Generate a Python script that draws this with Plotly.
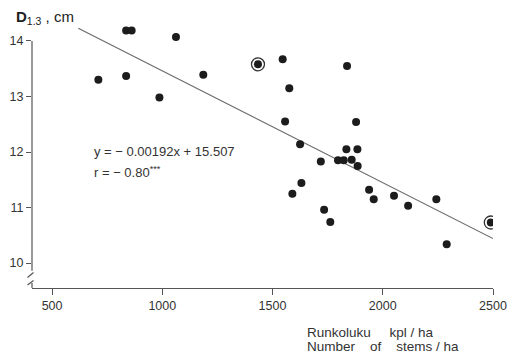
import plotly.graph_objects as go

# ---- data ----
stems = [710, 836, 861, 836, 1062, 987, 1186, 1434, 1546, 1838, 1576, 1557, 1879,
         1625, 1835, 1885, 1719, 1797, 1823, 1859, 1886, 1631, 1590, 1938, 1959,
         2051, 2115, 2243, 1734, 1762, 2490, 2290]
d13 = [13.30, 14.19, 14.19, 13.37, 14.07, 12.98, 13.39, 13.58, 13.67, 13.55, 13.15,
       12.55, 12.54, 12.14, 12.05, 12.05, 11.83, 11.85, 11.85, 11.86, 11.75, 11.44,
       11.25, 11.32, 11.15, 11.21, 11.03, 11.15, 10.96, 10.74, 10.73, 10.34]
circled_x = [1434, 2490]
circled_y = [13.58, 10.73]
line_x = [619, 2500]
line_y = [14.23, 10.44]
x_ticks = [500, 1000, 1500, 2000, 2500]
y_ticks = [10, 11, 12, 13, 14]

FONT = "Liberation Sans, Arial, sans-serif"
W, H = 514, 354
L, R, T, B = 32, 21, 20, 66
PW, PH = W - L - R, H - T - B


def px(x):
    return (x - L) / PW


def py(y):
    return (H - B - y) / PH


fig = go.Figure()
fig.add_trace(go.Scatter(x=line_x, y=line_y, mode="lines",
                         line=dict(color="#6a6a6a", width=1.1),
                         hoverinfo="skip", showlegend=False))
fig.add_trace(go.Scatter(x=circled_x, y=circled_y, mode="markers",
                         marker=dict(size=13, color="white",
                                     line=dict(color="#333", width=1.3)),
                         showlegend=False))
fig.add_trace(go.Scatter(x=stems, y=d13, mode="markers",
                         marker=dict(size=8, color="#1c1c1c"),
                         showlegend=False))

ax_col = "#555"
shapes = [
    dict(type="line", xref="paper", yref="y", x0=0, x1=0, y0=14, y1=9.86,
         line=dict(color=ax_col, width=1.2)),
    dict(type="line", xref="paper", yref="paper", x0=px(27.5), y0=py(277.5),
         x1=px(33.5), y1=py(272.5), line=dict(color=ax_col, width=1.2)),
    dict(type="line", xref="paper", yref="paper", x0=px(27.5), y0=py(285),
         x1=px(33.5), y1=py(280.5), line=dict(color=ax_col, width=1.2)),
    dict(type="line", xref="paper", yref="paper", x0=0, y0=py(283),
         x1=0, y1=0, line=dict(color=ax_col, width=1.2)),
]

annos = [
    dict(text="<b>D</b><sub>1.3</sub> , cm", x=px(14), y=py(17), xref="paper",
         yref="paper", xanchor="left", yanchor="middle", showarrow=False,
         font=dict(size=15, color="#222", family=FONT)),
    dict(text="y = − 0.00192x + 15.507", x=px(92), y=py(151), xref="paper",
         yref="paper", xanchor="left", yanchor="middle", showarrow=False,
         font=dict(size=13, color="#333", family=FONT)),
    dict(text="r = − 0.80<sup>***</sup>", x=px(92), y=py(171.5), xref="paper",
         yref="paper", xanchor="left", yanchor="middle", showarrow=False,
         font=dict(size=13, color="#333", family=FONT)),
    dict(text="Runkoluku\u00a0\u00a0\u00a0\u00a0 kpl / ha", x=px(305), y=py(332),
         xref="paper", yref="paper", xanchor="left", yanchor="middle",
         showarrow=False, font=dict(size=13.5, color="#333", family=FONT)),
    dict(text="Number\u00a0\u00a0\u00a0 of\u00a0\u00a0\u00a0 stems / ha", x=px(305),
         y=py(346), xref="paper", yref="paper", xanchor="left", yanchor="middle",
         showarrow=False, font=dict(size=13.5, color="#333", family=FONT)),
]

fig.update_layout(
    width=W, height=H,
    margin=dict(l=L, r=R, t=T, b=B, pad=0, autoexpand=False),
    paper_bgcolor="white", plot_bgcolor="white",
    font=dict(family=FONT, color="#333"),
    shapes=shapes, annotations=annos,
    xaxis=dict(range=[409, 2500], tickvals=x_ticks, ticks="outside", ticklen=6,
               tickcolor=ax_col, tickwidth=1.2, showline=True, linecolor=ax_col,
               linewidth=1.2, showgrid=False, zeroline=False, automargin=False,
               tickfont=dict(size=12.5, color="#333", family=FONT)),
    yaxis=dict(range=[9.55, 14.378], tickvals=y_ticks, ticks="outside", ticklen=5,
               tickcolor=ax_col, tickwidth=1.2, showline=False, showgrid=False,
               zeroline=False, automargin=False,
               tickfont=dict(size=12.5, color="#333", family=FONT)),
)

fig.write_html("out.html",
               config={"displayModeBar": False},
               post_script="document.body.style.margin='0px';"
                           "document.body.style.overflow='hidden';")
